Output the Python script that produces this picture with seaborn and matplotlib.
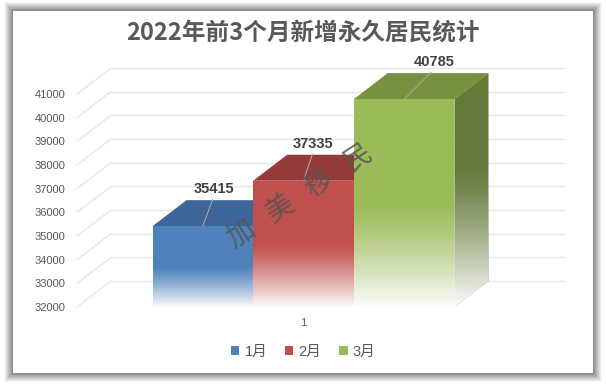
import numpy as np
import pandas as pd
import matplotlib
matplotlib.use('Agg')
import matplotlib.pyplot as plt
import seaborn as sns
from matplotlib.patches import Polygon, Rectangle, Patch

# ---- data ----
months = ['1月', '2月', '3月']
values = [35415, 37335, 40785]
category = ['1']
y_ticks = list(range(32000, 42000, 1000))
title = '2022年前3个月新增永久居民统计'
watermark = '加   美   移   民'

# ---- styles ----
front_colors = ['#4F81BD', '#C0504D', '#9BBB59']
top_colors = ['#3D6597', '#953B39', '#77913F']
side_colors = ['#35577F', '#7E302E', '#64793A']
label_dx = [11, 10, 30]

sns.set_theme(style='white')
plt.rcParams['font.family'] = ['Liberation Sans', 'Noto Sans CJK SC', 'DejaVu Sans']

W, H = 606, 384
fig = plt.figure(figsize=(W / 100, H / 100), dpi=100)
fig.patch.set_facecolor('white')

# background frame with soft shadow
bg = fig.add_axes([0, 0, 1, 1], zorder=-10)
bg.set_xlim(0, W)
bg.set_ylim(H, 0)
bg.axis('off')
bx0, by0, bx1, by1 = 13, 11, 593, 373
for i in range(9, 0, -1):
    g = 0.55 + (0.97 - 0.55) * (i - 1) / 8
    bg.add_patch(Rectangle((bx0 - i, by0 - i), bx1 - bx0 + 2 * i, by1 - by0 + 2 * i,
                           facecolor=(g, g, g), edgecolor='none'))
bg.add_patch(Rectangle((bx0, by0), bx1 - bx0, by1 - by0, facecolor='white', edgecolor='none'))

# main axes (front plane)
ax = fig.add_axes([77 / W, (H - 307) / H, 453 / W, 213 / H], zorder=1)
ax.set_facecolor('none')

df = pd.DataFrame({'cat': category * len(months), 'month': months, 'value': values})
sns.barplot(data=df, x='cat', y='value', hue='month', palette=front_colors,
            saturation=1, width=0.8, linewidth=0, legend=False, ax=ax)

xmin, xmax = -0.6, 0.6
ymin, ymax = 32000, 41000
ax.set_xlim(xmin, xmax)
ax.set_ylim(ymin, ymax)

ppx = 453 / (xmax - xmin)
ppy = 213 / (ymax - ymin)
ddx = 34 / ppx
ddy = 26 / ppy

# 3D-ish gridlines: side wall + back wall
for v in y_ticks:
    ax.plot([xmin + ddx, xmax + ddx], [v + ddy, v + ddy], color='#E6E6E6', lw=1,
            zorder=0.5, clip_on=False)
    ax.plot([xmin, xmin + ddx], [v, v + ddy], color='#E6E6E6', lw=1,
            zorder=0.5, clip_on=False)

bars = sorted(ax.patches, key=lambda p: p.get_x())
for i, p in enumerate(bars):
    x0 = p.get_x()
    x1 = x0 + p.get_width()
    h = p.get_height()
    base_z = 2 + 3 * i
    p.set_zorder(base_z + 1)
    top = Polygon([(x0, h), (x1, h), (x1 + ddx, h + ddy), (x0 + ddx, h + ddy)],
                  closed=True, facecolor=top_colors[i], edgecolor='none',
                  zorder=base_z, clip_on=False)
    ax.add_patch(top)
    side = Polygon([(x1, ymin), (x1, h), (x1 + ddx, h + ddy), (x1 + ddx, ymin + ddy)],
                   closed=True, facecolor=side_colors[i], edgecolor='none',
                   zorder=base_z, clip_on=False)
    ax.add_patch(side)
    # fade to white over lower half
    mid = ymin + (h - ymin) * 0.5
    n = 128
    grad = np.ones((n, 1, 4))
    t = np.linspace(0, 1, n)
    grad[:, 0, 3] = 0.98 * (1 - t) ** 1.2
    im = ax.imshow(grad, extent=[x0, x1, ymin, mid], origin='lower', aspect='auto',
                   zorder=base_z + 1.5, interpolation='bilinear')
    im.set_clip_path(p)
    mid_s = ymin + ddy + (h - ymin) * 0.55
    im2 = ax.imshow(grad, extent=[x1, x1 + ddx, ymin, mid_s], origin='lower',
                    aspect='auto', zorder=base_z + 0.5, interpolation='bilinear')
    im2.set_clip_path(side)
    ax.annotate(f'{values[i]}', xy=((x0 + x1) / 2, h), xytext=(label_dx[i], 30),
                textcoords='offset pixels', ha='center', va='bottom',
                fontsize=10.5, fontweight='bold', color='#404040',
                annotation_clip=False, zorder=20,
                arrowprops=dict(arrowstyle='-', color='#A6A6A6', lw=0.8,
                                shrinkA=0, shrinkB=0, relpos=(0.5, 0)))

ax.set_xlim(xmin, xmax)
ax.set_ylim(ymin, ymax)
ax.set_yticks(y_ticks)
ax.set_yticklabels([str(v) for v in y_ticks])
ax.tick_params(axis='y', length=0, pad=8.6, labelsize=8, labelcolor='#595959')
ax.tick_params(axis='x', length=0, pad=8, labelsize=8, labelcolor='#595959')
ax.set_xlabel('')
ax.set_ylabel('')
for s in ax.spines.values():
    s.set_visible(False)
ax.grid(False)

# title
fig.text(0.5, 1 - 33 / H, title, ha='center', va='center', fontsize=17,
         fontweight='bold', color='#595959', family=['Noto Sans CJK SC', 'DejaVu Sans'])

# watermark
fig.text(300 / W, 1 - 197 / H, watermark, ha='center', va='center', rotation=33,
         rotation_mode='anchor', fontsize=20, color='#555555', alpha=0.85,
         fontweight='light', family=['Noto Sans CJK SC'], zorder=30)

# legend
handles = [Patch(facecolor=c, edgecolor='none') for c in front_colors]
fig.legend(handles, months, loc='center', bbox_to_anchor=(0.500, 1 - 352 / H),
           ncol=3, frameon=False, fontsize=10.5, handlelength=0.6, handleheight=0.6,
           handletextpad=0.35, columnspacing=1.2, labelcolor='#595959')

fig.savefig('out.png', dpi=100, facecolor='white')
